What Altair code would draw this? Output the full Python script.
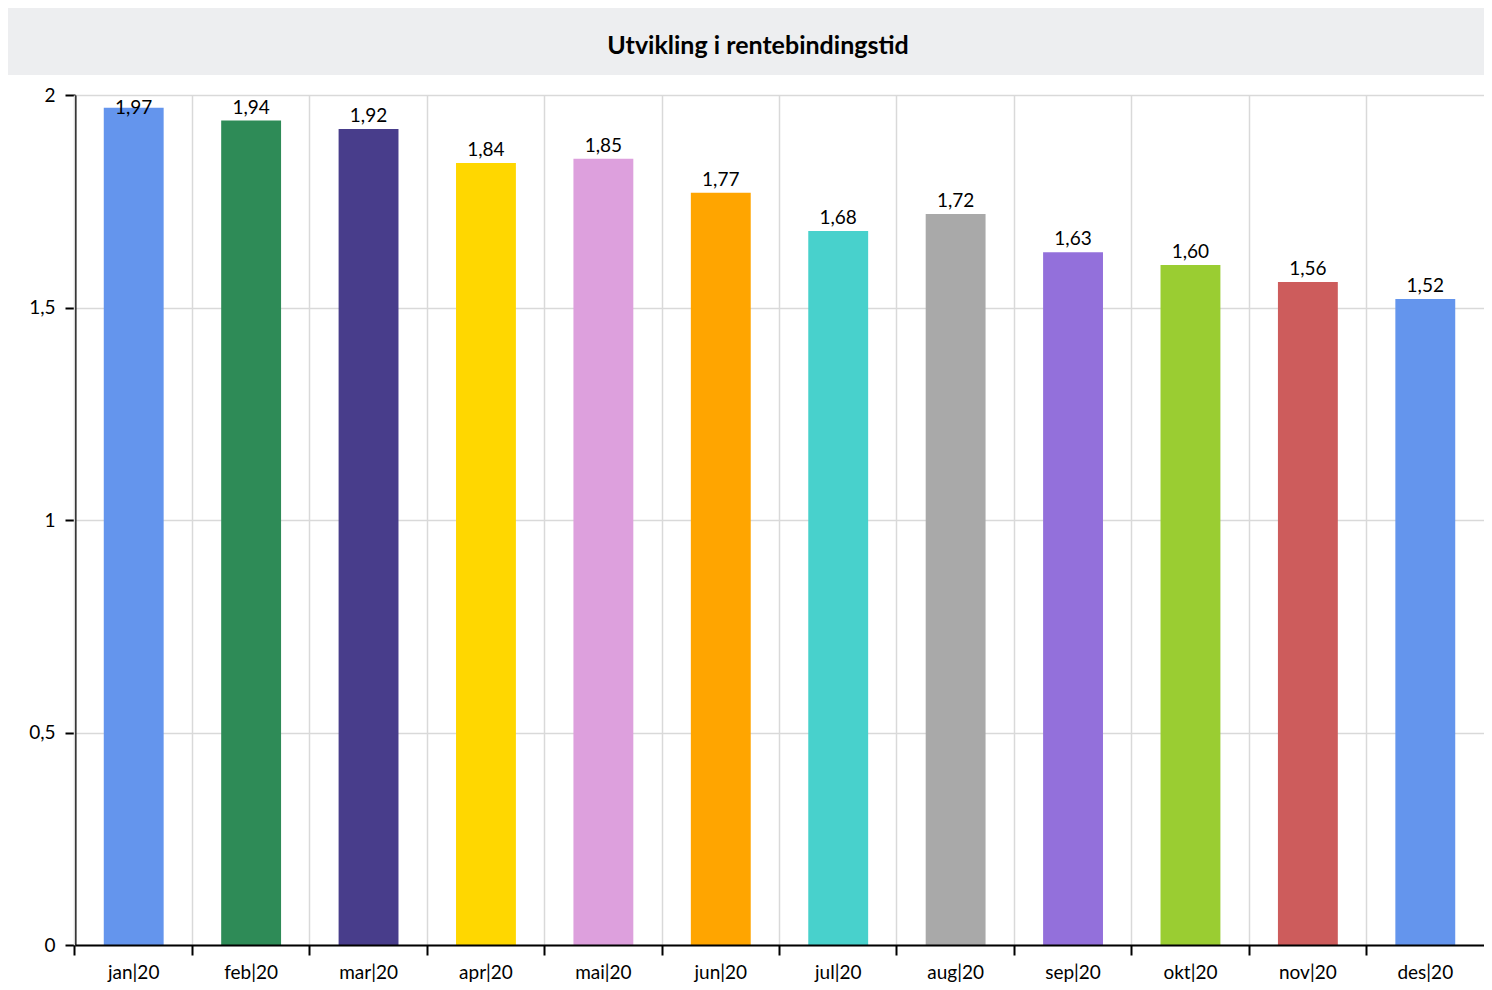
import altair as alt
import pandas as pd

months = ["jan|20", "feb|20", "mar|20", "apr|20", "mai|20", "jun|20",
          "jul|20", "aug|20", "sep|20", "okt|20", "nov|20", "des|20"]
values = [1.97, 1.94, 1.92, 1.84, 1.85, 1.77, 1.68, 1.72, 1.63, 1.60, 1.56, 1.52]
colors = ["#6495ED", "#2E8B57", "#483D8B", "#FFD700", "#DDA0DD", "#FFA500",
          "#48D1CC", "#A9A9A9", "#9370DB", "#9ACD32", "#CD5C5C", "#6495ED"]
y_ticks = [0, 0.5, 1, 1.5, 2]
title_text = "Utvikling i rentebindingstid"

FONT = "Lato"
W, H = 1409, 850
P_IN = 0.49
BAND_POS = -(P_IN / 2) / (1 - P_IN)

df = pd.DataFrame({"month": months, "value": values})

x_enc = alt.X(
    "month:N", sort=months, title=None,
    scale=alt.Scale(paddingInner=P_IN, paddingOuter=P_IN / 2),
    axis=alt.Axis(labelAngle=0, labelFont=FONT, labelFontSize=19, labelColor="#000000",
                  labelPadding=8, tickSize=10, tickColor="#000000", tickWidth=2,
                  domainColor="#000000", domainWidth=2, grid=True, gridColor="#D9D9D9",
                  gridWidth=1.5, bandPosition=BAND_POS, zindex=1),
)
y_scale = alt.Scale(domain=[0, 2], nice=False)

bars = alt.Chart(df).mark_bar().encode(
    x=x_enc,
    y=alt.Y("value:Q", scale=y_scale, title=None,
            axis=alt.Axis(values=y_ticks, labelFont=FONT, labelFontSize=19,
                          labelColor="#000000", labelPadding=10, tickSize=10,
                          tickColor="#000000", tickWidth=2, domainColor="#000000",
                          domainWidth=2, gridColor="#D9D9D9", gridWidth=1.5,
                          labelExpr="replace(format(datum.value, '~g'), '.', ',')")),
    color=alt.Color("month:N", scale=alt.Scale(domain=months, range=colors), legend=None),
)

labels = alt.Chart(df).transform_calculate(
    lab="replace(format(datum.value, '.2f'), '.', ',')",
    ypos="min(datum.value, 1.94)",
).mark_text(font=FONT, fontSize=19, color="#000000", baseline="middle", dy=-13).encode(
    x=alt.X("month:N", sort=months),
    y=alt.Y("ypos:Q", scale=y_scale),
    text="lab:N",
)

band = alt.Chart(pd.DataFrame({"t": [title_text]})).mark_rect(color="#EDEEF0").encode(
    x=alt.value(-67), x2=alt.value(W), y=alt.value(-87), y2=alt.value(-20)
)
title = alt.Chart(pd.DataFrame({"t": [title_text]})).mark_text(
    font=FONT, fontSize=25, fontWeight="bold", color="#000000",
    align="center", baseline="middle"
).encode(x=alt.value(683), y=alt.value(-49), text="t:N")

chart = alt.layer(band, bars, labels, title).properties(
    width=W, height=H, padding=0
).configure_view(stroke=None)

chart.save("out.html", embed_options={"renderer": "svg", "actions": False})
